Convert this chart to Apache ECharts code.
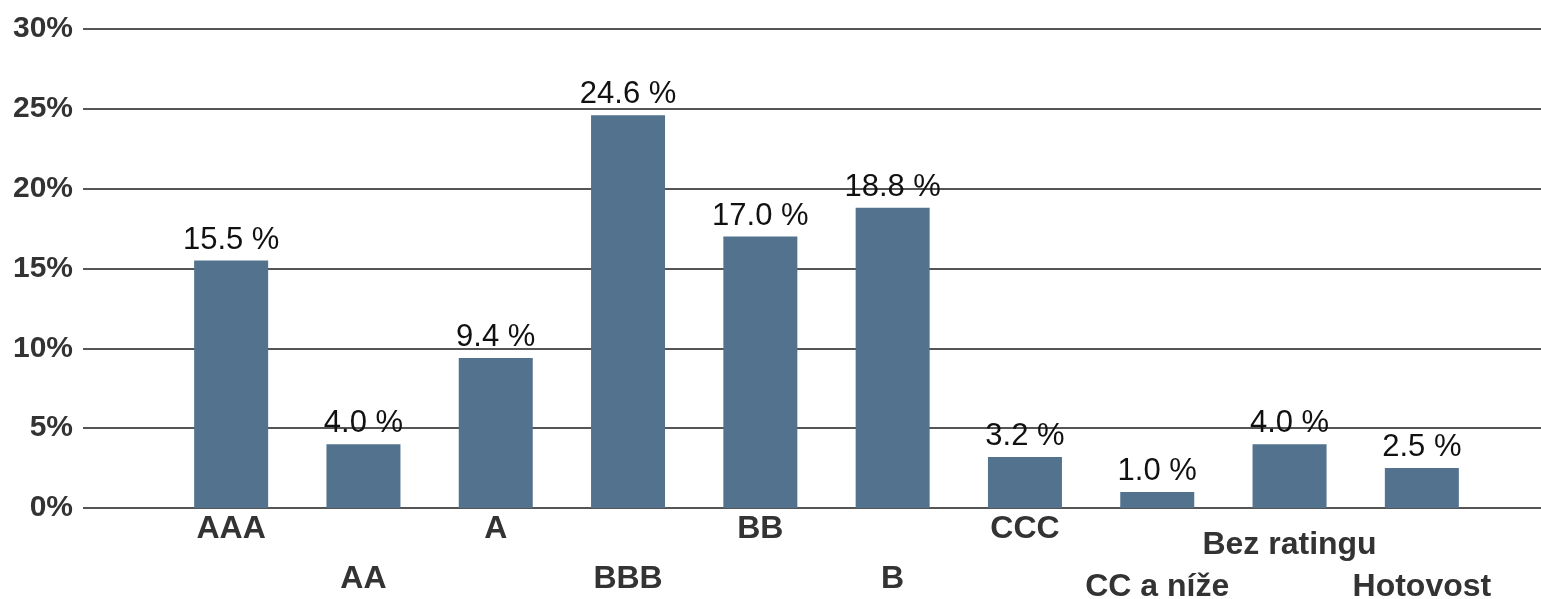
<!DOCTYPE html>
<html>
<head>
<meta charset="utf-8">
<script src="https://cdn.jsdelivr.net/npm/echarts@6/dist/echarts.min.js"></script>
<style>
html,body{margin:0;padding:0;background:#fff;}
#c{width:1541px;height:599px;}
</style>
</head>
<body>
<div id="c"></div>
<script>
const categories = ['AAA', 'AA', 'A', 'BBB', 'BB', 'B', 'CCC', 'CC a níže', 'Bez ratingu', 'Hotovost'];
const shares = [15.5, 4.0, 9.4, 24.6, 17.0, 18.8, 3.2, 1.0, 4.0, 2.5];
const yTicks = [0, 5, 10, 15, 20, 25, 30];

// label row style per category (layout only)
const labelRow = ['r1', 'r2', 'r1', 'r2', 'r1', 'r2', 'r1', 'r4', 'r3', 'r4'];

const FONT = '"Liberation Sans", Arial, sans-serif';
const chart = echarts.init(document.getElementById('c'), null, {renderer: 'canvas'});
const labelBase = {fontSize: 32, fontWeight: 'bold', color: '#333', fontFamily: FONT, lineHeight: 32};
chart.setOption({
  animation: false,
  backgroundColor: '#fff',
  grid: [
    {left: 83, right: 0, top: 29, bottom: 91, outerBoundsMode: 'none', containLabel: false},
    {left: 165, right: 53, top: 29, bottom: 91, outerBoundsMode: 'none', containLabel: false}
  ],
  xAxis: [
    {type: 'value', gridIndex: 0, show: false, min: 0, max: 1},
    {
      type: 'category', gridIndex: 1, data: categories,
      axisLine: {show: false}, axisTick: {show: false},
      axisLabel: {
        interval: 0, margin: 5,
        formatter: (v, i) => '{' + labelRow[i] + '|' + v + '}',
        rich: {
          r1: Object.assign({}, labelBase),
          r2: Object.assign({padding: [100, 0, 0, 0]}, labelBase),
          r3: Object.assign({padding: [32, 0, 0, 0]}, labelBase),
          r4: Object.assign({padding: [116, 0, 0, 0]}, labelBase)
        }
      }
    }
  ],
  yAxis: [
    {
      type: 'value', gridIndex: 0, min: yTicks[0], max: yTicks[yTicks.length - 1], interval: 5,
      axisLine: {show: false}, axisTick: {show: false},
      splitLine: {lineStyle: {color: '#555', width: 2}},
      axisLabel: {formatter: '{value}%', fontSize: 30, fontWeight: 'bold', color: '#333', fontFamily: FONT, margin: 10}
    },
    {type: 'value', gridIndex: 1, min: 0, max: 30, show: false}
  ],
  series: [{
    type: 'bar', xAxisIndex: 1, yAxisIndex: 1, data: shares, barWidth: 74,
    itemStyle: {color: '#52728e'},
    label: {
      show: true, position: 'top', distance: 5,
      formatter: p => p.value.toFixed(1) + ' %',
      fontSize: 31, color: '#111', fontFamily: FONT
    }
  }]
});
</script>
</body>
</html>
